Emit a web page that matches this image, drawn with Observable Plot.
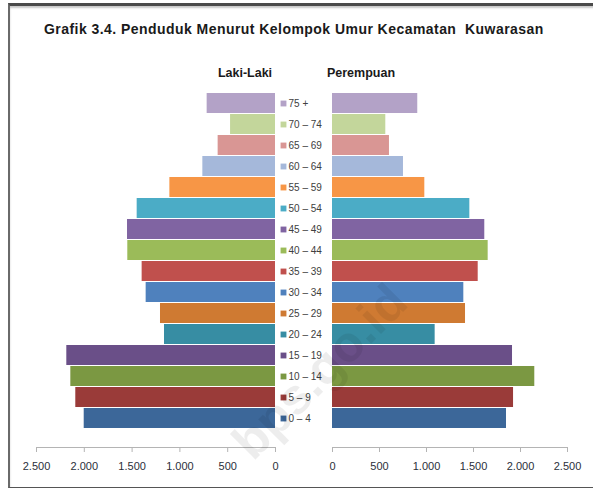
<!DOCTYPE html>
<html>
<head>
<meta charset="utf-8">
<script src="https://cdn.jsdelivr.net/npm/d3@7"></script>
<script src="https://cdn.jsdelivr.net/npm/@observablehq/plot@0.6"></script>
<style>
  html, body { margin: 0; padding: 0; background: #fff; }
  #page { position: relative; width: 593px; height: 488px; overflow: hidden; background: #fff; font-family: "Liberation Sans", Arial, sans-serif; }
  #frame { position: absolute; left: 8px; top: 3px; width: 600px; height: 481px; border-top: 3px solid #4a4a4a; border-left: 2px solid #6a6a6a; border-bottom: 1px solid #555; box-shadow: inset 0 2px 2px #c8c8c8; }
  .abs { position: absolute; }
  #title { left: 44px; top: 21px; font-weight: bold; font-size: 14px; letter-spacing: 0.45px; color: #1a1a1a; white-space: pre; }
  .hdr { top: 66px; font-weight: bold; font-size: 12.5px; color: #1a1a1a; transform: translateX(-50%); white-space: pre; }
  #wm { position: absolute; left: 0; top: 0; pointer-events: none; }
</style>
</head>
<body>
<div id="page">
  <div id="frame"></div>
  <div id="title" class="abs"></div>
  <div id="hdrL" class="abs hdr"></div>
  <div id="hdrR" class="abs hdr"></div>
  <div id="left" class="abs" style="left:0px;top:0px"></div>
  <div id="mid" class="abs" style="left:277px;top:0px"></div>
  <div id="right" class="abs" style="left:300px;top:0px"></div>
</div>
<script>
const titleText = "Grafik 3.4. Penduduk Menurut Kelompok Umur Kecamatan  Kuwarasan";
const leftHeader = "Laki-Laki";
const rightHeader = "Perempuan";
const watermarkText = "bps.go.id";
const ageGroups = ["75 +","70 – 74","65 – 69","60 – 64","55 – 59","50 – 54","45 – 49","40 – 44","35 – 39","30 – 34","25 – 29","20 – 24","15 – 19","10 – 14","5 – 9","0 – 4"];
const male   = [715, 470, 600, 760, 1105, 1447, 1548, 1545, 1395, 1353, 1203, 1161, 2183, 2141, 2089, 2001];
const female = [907, 567, 606, 755, 982, 1461, 1620, 1656, 1550, 1397, 1415, 1092, 1915, 2152, 1926, 1851];
const xTicks = [0, 500, 1000, 1500, 2000, 2500];
const colors = ["#B3A2C7","#C3D69B","#D99694","#A5B8DA","#F79646","#4BACC6","#8064A2","#9BBB59","#C0504D","#4F81BD","#CF7A32","#378DA3","#6A4F88","#7B9842","#9A3B39","#3C6799"];

document.getElementById("title").textContent = titleText;
const hl = document.getElementById("hdrL"); hl.textContent = leftHeader; hl.style.left = "245px";
const hr = document.getElementById("hdrR"); hr.textContent = rightHeader; hr.style.left = "361px";

const rows = ageGroups.map((age, i) => ({age, male: male[i], female: female[i]}));
const fmt = d3.formatLocale({decimal: ",", thousands: ".", grouping: [3], currency: ["", ""]}).format(",");

const H = 488, MB = 41;
const yScale = {domain: ageGroups, range: [89.5, 430.5], paddingInner: 0.05, paddingOuter: 0.025, axis: null};
const colorScale = {domain: ageGroups, range: colors};
const style = {fontFamily: "'Liberation Sans', Arial, sans-serif", fontSize: "11px", color: "#2b2f3a", background: "transparent", overflow: "visible"};

function side(key, width, ml, mr, reverse) {
  return Plot.plot({
    width, height: H, marginLeft: ml, marginRight: mr, marginTop: 0, marginBottom: MB,
    style,
    x: {domain: [0, 2500], reverse, axis: null},
    y: yScale,
    color: colorScale,
    marks: [
      Plot.barX(rows, {x: key, y: "age", fill: "age"}),
      Plot.frame({anchor: "bottom", stroke: "#b4b4b4"}),
      Plot.axisX({ticks: xTicks, tickFormat: fmt, tickSize: 5, tickPadding: 10, stroke: "#b4b4b4", label: null})
    ]
  });
}

document.getElementById("left").append(side("male", 282, 36, 7, true));
document.getElementById("right").append(side("female", 293, 32, 26, false));

document.getElementById("mid").append(Plot.plot({
  width: 56, height: H, marginLeft: 0, marginRight: 0, marginTop: 0, marginBottom: MB,
  style: {...style, fontSize: "10px"},
  y: yScale,
  color: colorScale,
  marks: [
    Plot.dot(rows, {y: "age", fill: "age", symbol: "square", r: 3.3, frameAnchor: "left", dx: 6}),
    Plot.text(rows, {y: "age", text: "age", frameAnchor: "left", dx: 11, textAnchor: "start", fill: "#404040", fontSize: 10})
  ]
}));

// faint diagonal watermark
const wm = d3.select("#page").append("svg").attr("id", "wm").attr("width", 593).attr("height", 488);
wm.append("text")
  .attr("x", 410).attr("y", 305)
  .attr("transform", "rotate(-45 410 305)")
  .attr("text-anchor", "end")
  .attr("font-family", "'Liberation Sans', Arial, sans-serif")
  .attr("font-weight", "bold")
  .attr("font-size", 50)
  .attr("fill", "rgba(0,0,0,0.07)")
  .text(watermarkText);
</script>
</body>
</html>
